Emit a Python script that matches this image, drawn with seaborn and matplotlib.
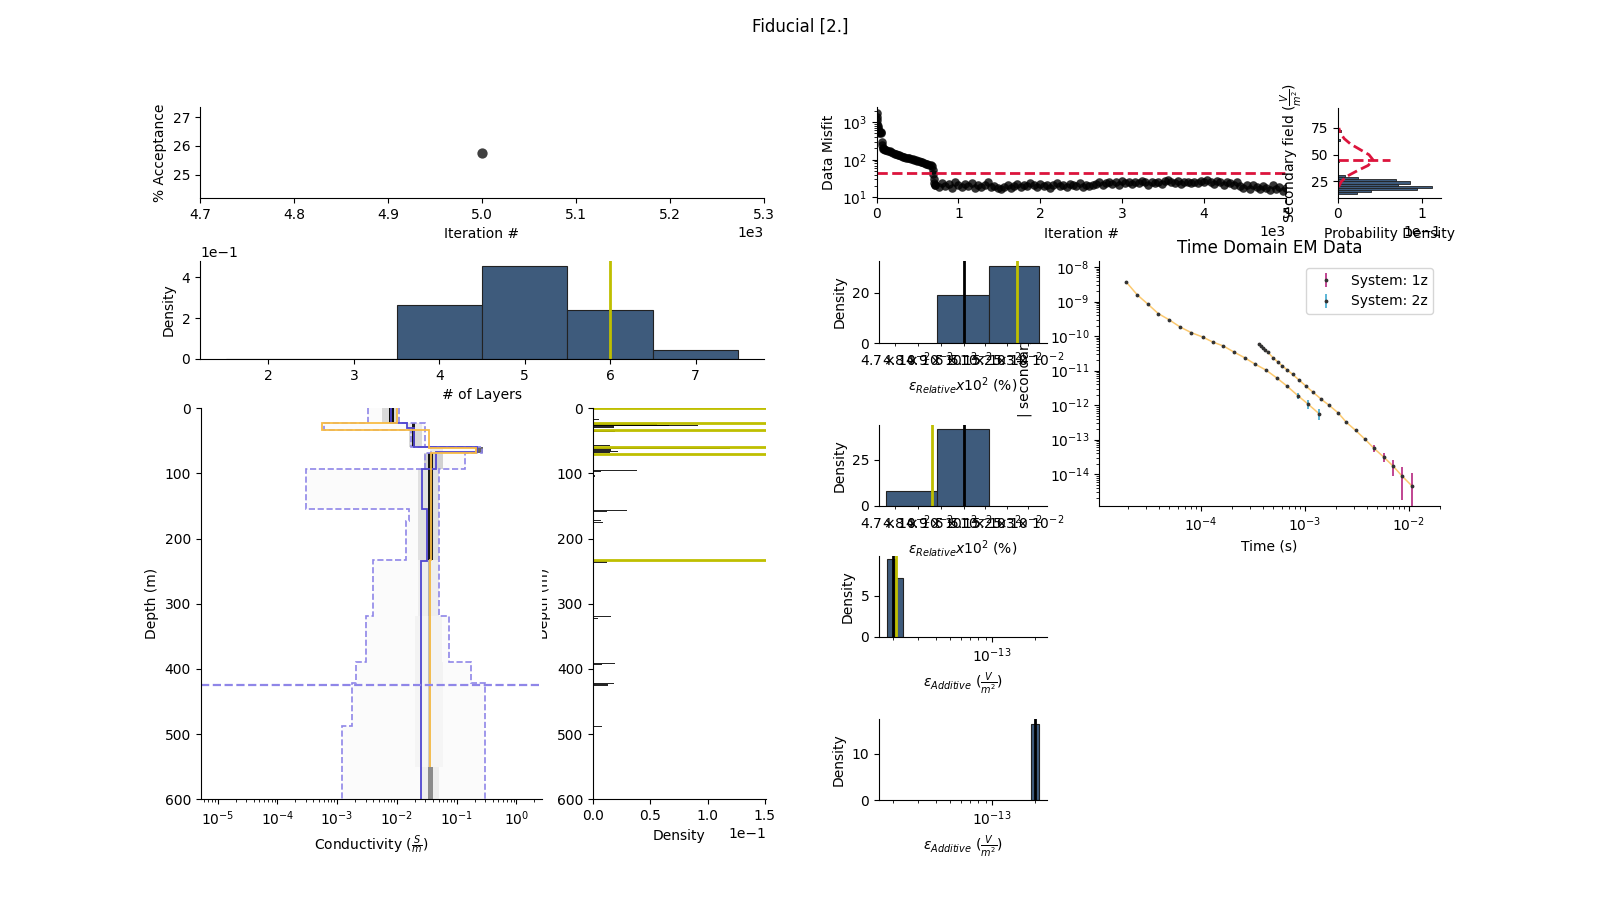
import numpy as np
import matplotlib
matplotlib.use("Agg")
import matplotlib.pyplot as plt
import seaborn as sns

# ---------------- data ----------------
acc_iter = [5000]
acc_pct = [25.77]

n_layers = [2, 3, 4, 5, 6, 7]
layer_density = [0.0, 0.0, 0.265, 0.455, 0.24, 0.045]
layer_edges = [1.5, 2.5, 3.5, 4.5, 5.5, 6.5, 7.5]
true_n_layers = 6

# interface depth histogram (depth m, density)
dh_depth = [17, 23, 24.5, 26, 27, 28.6, 35, 57, 61.4, 64, 66.5, 68, 95, 96.7, 104, 124,
            157, 158, 172.4, 175.4, 233.8, 235.8, 319, 322.8, 391.8, 392.8, 422.5, 424.5, 488]
dh_density = [0.005, 0.063, 0.056, 0.0915, 0.066, 0.018, 0.019, 0.015, 0.12, 0.0155, 0.022, 0.015,
              0.038, 0.007, 0.002, 0.001, 0.030, 0.012, 0.007, 0.009, 0.030, 0.012, 0.016, 0.004,
              0.019, 0.008, 0.018, 0.013, 0.008]
true_interfaces = [0, 22, 33, 60, 70, 233]

# conductivity posterior summary
true_edges = [0, 23, 33, 61, 69, 233, 550]
true_sigma = [0.0099, 0.00055, 0.035, 0.21, 0.037, 0.036]
med_edges = [0, 22, 30, 59, 67, 93, 155, 235, 600]
med_sigma = [0.008, 0.015, 0.019, 0.22, 0.045, 0.026, 0.032, 0.025]
pct_edges = [0, 23, 33, 60, 69, 93, 155, 173, 233, 318, 390, 422, 488, 600]
p05_sigma = [0.0033, 0.0006, 0.017, 0.038, 0.03, 0.0003, 0.016, 0.0143, 0.004, 0.003, 0.0021, 0.0018, 0.0012]
p95_sigma = [0.011, 0.03, 0.03, 0.27, 0.14, 0.05, 0.05, 0.05, 0.05, 0.076, 0.175, 0.30, 0.30]
doi_depth = 425

# posterior density shading per depth band
sh_edges = [0, 23, 33, 60, 69, 93, 155, 173, 233, 318, 390, 422, 488, 550, 600]
sh_lo = [0.0033, 0.0006, 0.017, 0.04, 0.03, 0.0003, 0.016, 0.0143, 0.004, 0.003, 0.0021, 0.0018, 0.0012, 0.0012]
sh_hi = [0.011, 0.03, 0.03, 0.27, 0.14, 0.05, 0.05, 0.05, 0.05, 0.076, 0.175, 0.30, 0.30, 0.30]
core_lo = [0.0055, 0.015, 0.016, 0.035, 0.028, 0.022, 0.022, 0.022, 0.022, 0.02, 0.02, 0.02, 0.02, 0.025]
core_hi = [0.0098, 0.026, 0.027, 0.06, 0.06, 0.05, 0.05, 0.05, 0.05, 0.055, 0.06, 0.06, 0.06, 0.05]
core_lvl = [0.15, 0.08, 0.15, 0.08, 0.18, 0.12, 0.12, 0.12, 0.07, 0.05, 0.05, 0.04, 0.04, 0.07]
mode_lo = [0.0076, 0.018, 0.018, 0.21, 0.033, 0.033, 0.033, 0.033, 0.034, 0.034, 0.034, 0.034, 0.034, 0.034]
mode_hi = [0.0088, 0.0205, 0.0205, 0.28, 0.039, 0.039, 0.039, 0.039, 0.038, 0.038, 0.038, 0.038, 0.038, 0.040]
mode_lvl = [0.95, 0.9, 0.92, 0.6, 0.92, 0.9, 0.9, 0.9, 0.3, 0.25, 0.25, 0.2, 0.2, 0.45]

# data misfit trace
mf_iter_early = [0, 3, 6, 10, 14, 18, 22, 26, 30, 40, 50, 60, 65, 70, 75, 80, 90, 100, 120, 140,
                 160, 180, 200, 220, 240, 260, 280, 300, 320, 340, 360, 380, 400, 420, 440, 460,
                 480, 500, 520, 540, 560, 580, 600, 620, 640, 660, 680, 690, 695, 700, 705, 710]
mf_val_early = [1700, 1400, 1100, 900, 800, 700, 620, 560, 520, 560, 540, 520, 300, 250, 210, 195,
                188, 182, 178, 172, 166, 160, 152, 146, 140, 134, 130, 125, 121, 117, 113, 110,
                108, 106, 104, 101, 98, 95, 92, 88, 85, 82, 79, 76, 74, 72, 68, 55, 42, 30, 24, 21]
mf_val_late = [22, 19, 24, 20, 23, 18, 25, 21, 19, 23,
               20, 24, 18, 22, 19, 21, 25, 19, 20, 18,
               17, 19, 21, 18, 20, 23, 19, 22, 20, 24,
               21, 19, 23, 20, 22, 18, 21, 24, 20, 22,
               19, 23, 21, 20, 24, 19, 22, 20, 21, 23,
               25, 22, 24, 26, 23, 25, 22, 27, 24, 25,
               23, 26, 24, 27, 25, 22, 26, 24, 25, 23,
               27, 29, 25, 24, 27, 23, 26, 25, 24, 26,
               24, 27, 25, 29, 26, 23, 27, 25, 22, 26,
               24, 22, 25, 20, 18, 22, 17, 21, 19, 17,
               20, 18, 16, 21, 17, 19, 15, 18]
mf_iter_late = list(range(720, 5001, 40))
target_misfit = 45

# misfit histogram
mh_center = [14, 16, 18, 20, 22, 24, 26, 28, 30, 44, 64, 72]
mh_density = [0.023, 0.039, 0.094, 0.112, 0.072, 0.086, 0.069, 0.024, 0.008, 0.001, 0.002, 0.004]
chi_misfit = [20, 25, 30, 35, 40, 45, 50, 55, 60, 65, 70, 75]
chi_pdf = [0.0008, 0.004, 0.011, 0.023, 0.036, 0.042, 0.037, 0.026, 0.015, 0.0075, 0.003, 0.001]
target_line_len = 0.062

# relative / additive error histograms
rel1_edges = [0.04883, 0.05116, 0.05353]
rel1_h = [19.0, 30.5]
rel1_mean, rel1_true = 0.0500, 0.05246
rel2_edges = [0.04661, 0.04883, 0.05116]
rel2_h = [8.0, 42.0]
rel2_mean, rel2_true = 0.0500, 0.0486
add1_edges = [1.786e-14, 2.05e-14, 2.35e-14]
add1_h = [9.4, 7.12]
add1_mean, add1_true = 2.0e-14, 2.1e-14
add2_edges = [1.90e-13, 2.14e-13]
add2_h = [16.4]
add2_mean = 2.0e-13

# time-domain EM data
sys1_t = [3.65e-4, 3.82e-4, 3.99e-4, 4.18e-4, 4.43e-4, 4.99e-4, 5.53e-4, 6.05e-4, 6.76e-4, 7.66e-4,
          8.75e-4, 1.02e-3, 1.20e-3, 1.44e-3, 1.71e-3, 2.10e-3, 2.51e-3, 3.08e-3, 3.80e-3, 4.64e-3,
          5.75e-3, 7.08e-3, 8.65e-3, 1.08e-2]
sys1_d = [5.92e-11, 5.3e-11, 4.43e-11, 4.05e-11, 3.39e-11, 2.32e-11, 1.77e-11, 1.39e-11, 1.06e-11, 7.77e-12,
          5.43e-12, 3.64e-12, 2.38e-12, 1.49e-12, 9.98e-13, 5.97e-13, 3.2e-13, 1.87e-13, 1.03e-13, 5.6e-14,
          3.14e-14, 1.72e-14, 8.8e-15, 4.5e-15]
sys1_err = [3.0e-12, 2.7e-12, 2.2e-12, 2.0e-12, 1.7e-12, 1.2e-12, 9e-13, 7e-13, 5.3e-13, 3.9e-13,
            2.7e-13, 1.8e-13, 1.2e-13, 7.5e-14, 5e-14, 3e-14, 1.8e-14, 1.3e-14, 1.1e-14, 1.2e-14,
            9e-15, 8.5e-15, 7e-15, 6.5e-15]
sys2_t = [1.91e-5, 2.45e-5, 3.08e-5, 3.90e-5, 4.94e-5, 6.31e-5, 8.12e-5, 1.04e-4, 1.30e-4, 1.65e-4,
          2.08e-4, 2.64e-4, 3.32e-4, 4.24e-4, 5.41e-4, 6.76e-4, 8.57e-4, 1.07e-3, 1.37e-3]
sys2_d = [3.76e-9, 1.57e-9, 8.6e-10, 4.5e-10, 3.0e-10, 1.85e-10, 1.26e-10, 9.46e-11, 6.77e-11, 5.18e-11,
          3.47e-11, 2.37e-11, 1.55e-11, 1.04e-11, 6.08e-12, 3.56e-12, 1.9e-12, 1.09e-12, 5.7e-13]
sys2_err = [1.9e-10, 7.9e-11, 4.3e-11, 2.3e-11, 1.5e-11, 9.3e-12, 6.3e-12, 4.7e-12, 3.4e-12, 2.6e-12,
            1.7e-12, 1.2e-12, 7.8e-13, 5.2e-13, 3.5e-13, 3.0e-13, 4.0e-13, 3.4e-13, 2.0e-13]

# ---------------- style ----------------
BAR = "#3e5b7c"
EDGE = "#222222"
YEL = "#bfbf00"
RED = "crimson"
MED = "#5046d0"
PCT = "#8f86e8"
ORG = "#f8bc45"
ORG_LINE = "#fbc970"

W, H = 1600, 900
fig = plt.figure(figsize=(16, 9), dpi=100)
fig.suptitle("Fiducial [2.]", fontsize=12)


def add(x0, y0, x1, y1):
    return fig.add_axes([x0 / W, 1 - y1 / H, (x1 - x0) / W, (y1 - y0) / H])


# acceptance
ax = add(200, 107, 764, 198)
sns.scatterplot(x=acc_iter, y=acc_pct, ax=ax, color="k", alpha=0.75, s=55, linewidth=0)
ax.set_xlim(4700, 5300)
ax.set_ylim(24.2, 27.35)
ax.set_yticks([25, 26, 27])
ax.ticklabel_format(axis="x", style="sci", scilimits=(0, 0))
ax.set_xlabel("Iteration #")
ax.set_ylabel("% Acceptance")

# number of layers
ax = add(200, 261, 764, 359)
sns.histplot(x=n_layers, weights=layer_density, bins=layer_edges, ax=ax, color=BAR, alpha=1,
             edgecolor=EDGE, linewidth=0.8)
ax.axvline(true_n_layers, color=YEL, lw=2)
ax.set_xlim(1.2, 7.8)
ax.set_ylim(0, 0.48)
ax.ticklabel_format(axis="y", style="sci", scilimits=(0, 0))
ax.set_xlabel("# of Layers")
ax.set_ylabel("Density")

# interface depth histogram (created before conductivity so its label is partly covered)
ax = add(593, 408.3, 766, 799.3)
ax.barh(dh_depth, dh_density, height=1.8, color="k", alpha=0.85, linewidth=0)
for d in true_interfaces:
    ax.axhline(d, color=YEL, lw=2)
ax.set_xlim(0, 0.151)
ax.set_ylim(600, 0)
ax.ticklabel_format(axis="x", style="sci", scilimits=(0, 0))
ax.set_xlabel("Density")
ax.set_ylabel("Depth (m)")

# conductivity posterior
ax = add(200.7, 408.3, 541.7, 799.3)
lx = np.arange(-5.3, 0.4501, 0.025)
cc = 10 ** ((lx[:-1] + lx[1:]) / 2)
Z = np.zeros((len(sh_lo), len(cc)))
for i in range(len(sh_lo)):
    Z[i, (cc >= sh_lo[i]) & (cc <= sh_hi[i])] = 0.018
    Z[i, (cc >= core_lo[i]) & (cc <= core_hi[i])] = core_lvl[i]
    Z[i, (cc >= mode_lo[i]) & (cc <= mode_hi[i])] = mode_lvl[i]
ax.pcolormesh(10 ** lx, sh_edges, Z, cmap="gray_r", vmin=0, vmax=1, shading="flat")
ax.stairs(p05_sigma, pct_edges, orientation="horizontal", baseline=None, color=PCT, ls="--", lw=1.2)
ax.stairs(p95_sigma, pct_edges, orientation="horizontal", baseline=None, color=PCT, ls="--", lw=1.2)
ax.stairs(med_sigma, med_edges, orientation="horizontal", baseline=None, color=MED, lw=1.3)
ax.stairs(true_sigma, true_edges, orientation="horizontal", baseline=None, color=ORG, lw=1.3)
ax.axhline(doi_depth, color=PCT, ls="--", lw=1.6)
ax.set_xscale("log")
ax.set_xlim(5.2e-6, 2.66)
ax.set_ylim(600, 0)
ax.set_xlabel("Conductivity ($\\frac{S}{m}$)")
ax.set_ylabel("Depth (m)")

# data misfit
ax = add(876.5, 107, 1286, 197.5)
sns.scatterplot(x=mf_iter_early + mf_iter_late, y=mf_val_early + mf_val_late, ax=ax,
                color="k", alpha=0.8, s=38, linewidth=0)
ax.axhline(target_misfit, color=RED, ls="--", lw=2)
ax.set_yscale("log")
ax.set_ylim(10, 2500)
ax.set_xlim(0, 5000)
ax.ticklabel_format(axis="x", style="sci", scilimits=(0, 0))
ax.set_xlabel("Iteration #")
ax.set_ylabel("Data Misfit")

# misfit histogram
ax = add(1338, 108, 1441, 197.5)
ax.barh(mh_center, mh_density, height=2, color=BAR, edgecolor=EDGE, linewidth=0.6)
ax.plot(chi_pdf, chi_misfit, color=RED, ls="--", lw=2)
ax.plot([0, target_line_len], [target_misfit, target_misfit], color=RED, ls="--", lw=2)
ax.set_ylim(10, 93.7)
ax.set_xlim(0, 0.123)
ax.set_xticks([0, 0.1])
ax.set_yticks([25, 50, 75])
ax.ticklabel_format(axis="x", style="sci", scilimits=(0, 0))
ax.set_xlabel("Probability Density")
ax.set_ylabel("Secondary field ($\\frac{V}{m^{2}}$)")

# time-domain data
ax = add(1099, 261, 1440, 506)
ax.plot(sys2_t, sys2_d, color=ORG_LINE, lw=1.1)
ax.plot(sys1_t, sys1_d, color=ORG_LINE, lw=1.1)
ax.errorbar(sys1_t, sys1_d, yerr=sys1_err, fmt=".", color="#333333", ms=3.5,
            ecolor="#b5267f", elinewidth=1.2, capsize=0, label="System: 1z")
ax.errorbar(sys2_t, sys2_d, yerr=sys2_err, fmt=".", color="#333333", ms=3.5,
            ecolor="#3fa9d0", elinewidth=1.2, capsize=0, label="System: 2z")
ax.set_xscale("log")
ax.set_yscale("log")
ax.set_xlim(1.05e-5, 2e-2)
ax.set_ylim(1.2e-15, 1.5e-8)
ax.set_title("Time Domain EM Data", fontsize=12)
ax.set_xlabel("Time (s)")
ax.set_ylabel("| secondary field |", ha="left", va="baseline")
ax.yaxis.set_label_coords(-0.208, 0.363)
ax.legend(loc="upper right")


def err_hist(box, edges, heights, xlim, ylim, yticks, xlabel, lines):
    a = add(*box)
    centers = [np.sqrt(edges[i] * edges[i + 1]) for i in range(len(heights))]
    sns.histplot(x=centers, weights=heights, bins=edges, ax=a, color=BAR, alpha=1,
                 edgecolor=EDGE, linewidth=0.8)
    for xv, c in lines:
        a.axvline(xv, color=c, lw=2)
    a.set_xscale("log")
    a.set_xlim(*xlim)
    a.set_ylim(*ylim)
    a.set_yticks(yticks)
    a.set_xlabel(xlabel)
    a.set_ylabel("Density")
    return a


rel_lab = "$\\epsilon_{Relative}x10^{2}$ (%)"
add_lab = "$\\epsilon_{Additive}$ ($\\frac{V}{m^{2}}$)"
err_hist((879, 261, 1047, 343), rel1_edges, rel1_h, (0.04632, 0.05392), (0, 32.5), [0, 20], rel_lab,
         [(rel1_mean, "k"), (rel1_true, YEL)])
err_hist((879, 425, 1047, 506), rel2_edges, rel2_h, (0.04632, 0.05392), (0, 44), [0, 25], rel_lab,
         [(rel2_true, YEL), (rel2_mean, "k")])
err_hist((879, 556, 1047, 637), add1_edges, add1_h, (1.58e-14, 2.45e-13), (0, 9.8), [0, 5], add_lab,
         [(add1_mean, "k"), (add1_true, YEL)])
err_hist((879, 719, 1047, 800), add2_edges, add2_h, (1.58e-14, 2.45e-13), (0, 17.5), [0, 10], add_lab,
         [(add2_mean, "k")])

sns.despine(fig=fig)
fig.savefig("out.png", dpi=100)
